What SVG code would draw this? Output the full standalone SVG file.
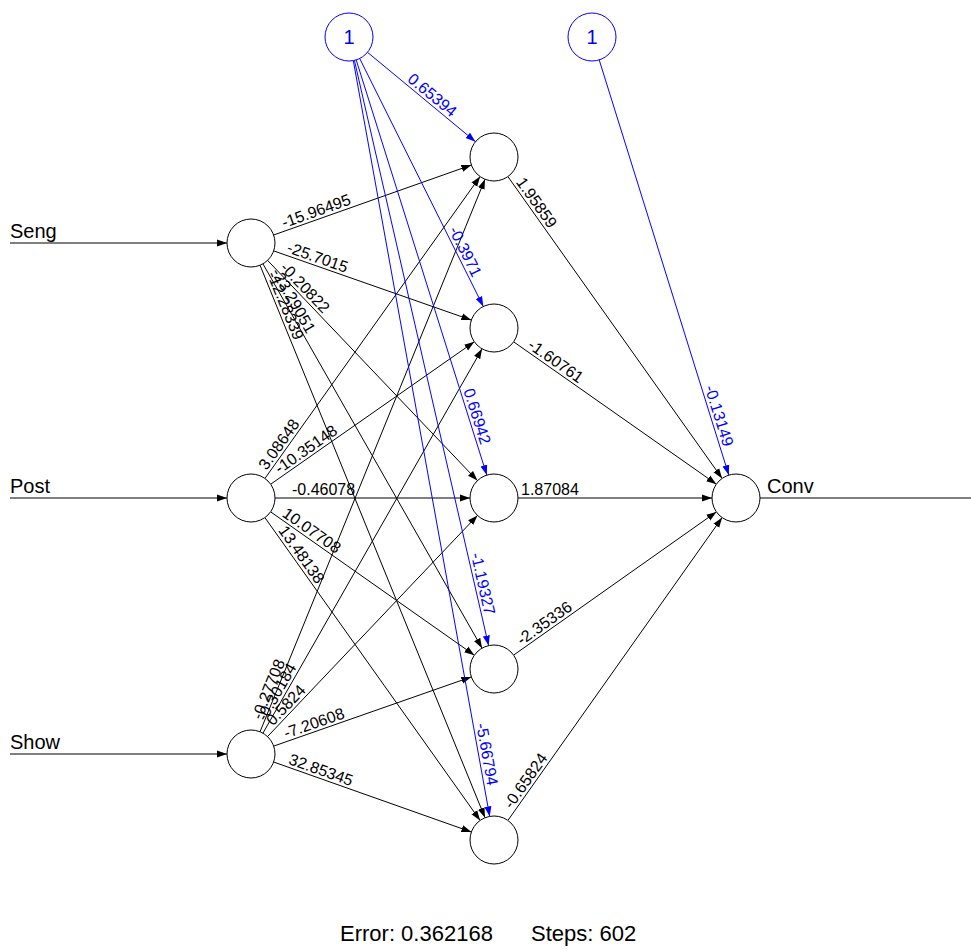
<svg xmlns="http://www.w3.org/2000/svg" width="971" height="952" viewBox="0 0 971 952">
<style>
.node{fill:#fff;stroke:#000;stroke-width:1}
.bias{fill:#fff;stroke:#0000ff;stroke-width:1}
.e{stroke:#000;stroke-width:1;fill:none;marker-end:url(#ab)}
.eb{stroke:#0000ff;stroke-width:1;fill:none;marker-end:url(#abl)}
.w{font-family:"Liberation Sans",Arial,sans-serif;font-size:16px;fill:#000}
.wb{font-family:"Liberation Sans",Arial,sans-serif;font-size:16px;fill:#0000ff;text-anchor:end}
.lbl{font-family:"Liberation Sans",Arial,sans-serif;font-size:20px;fill:#000}
.one{font-family:"Liberation Sans",Arial,sans-serif;font-size:20px;fill:#0000ff;text-anchor:middle}
.title{font-family:"Liberation Sans",Arial,sans-serif;font-size:22px;fill:#000}
</style>
<defs>
<marker id="ab" markerUnits="userSpaceOnUse" markerWidth="10" markerHeight="8" refX="10" refY="4" orient="auto"><path d="M0,0.5 L10,4 L0,7.5 z" fill="#000"/></marker>
<marker id="abl" markerUnits="userSpaceOnUse" markerWidth="10" markerHeight="8" refX="10" refY="4" orient="auto"><path d="M0,0.5 L10,4 L0,7.5 z" fill="#0000ff"/></marker>
</defs>
<rect width="971" height="952" fill="#fff"/>
<g id="connectors">
<line class="e" x1="10" y1="243" x2="227" y2="243"/>
<line class="e" x1="10" y1="498" x2="227" y2="498"/>
<line class="e" x1="10" y1="754" x2="227" y2="754"/>
<line x1="760" y1="498" x2="971" y2="498" stroke="#000" stroke-width="1"/>
<line class="e" x1="273.6" y1="235.0" x2="471.4" y2="165.0"/>
<line class="e" x1="273.7" y1="250.9" x2="471.3" y2="320.1"/>
<line class="e" x1="267.6" y1="260.4" x2="477.4" y2="480.6"/>
<line class="e" x1="262.9" y1="263.8" x2="482.1" y2="648.2"/>
<line class="e" x1="260.0" y1="265.2" x2="485.0" y2="817.8"/>
<line class="e" x1="264.9" y1="478.5" x2="480.1" y2="176.5"/>
<line class="e" x1="270.7" y1="484.2" x2="474.3" y2="341.8"/>
<line class="e" x1="275" y1="498" x2="470" y2="498"/>
<line class="e" x1="270.6" y1="511.8" x2="474.4" y2="655.2"/>
<line class="e" x1="264.9" y1="517.6" x2="480.1" y2="820.4"/>
<line class="e" x1="260.0" y1="731.8" x2="485.0" y2="179.2"/>
<line class="e" x1="262.9" y1="733.2" x2="482.1" y2="348.8"/>
<line class="e" x1="267.5" y1="736.6" x2="477.5" y2="515.4"/>
<line class="e" x1="273.7" y1="746.1" x2="471.3" y2="676.9"/>
<line class="e" x1="273.6" y1="762.0" x2="471.4" y2="832.0"/>
<line class="e" x1="507.9" y1="176.6" x2="722.1" y2="478.4"/>
<line class="e" x1="513.6" y1="341.8" x2="716.4" y2="484.2"/>
<line class="e" x1="518" y1="498" x2="712" y2="498"/>
<line class="e" x1="513.6" y1="655.1" x2="716.4" y2="511.9"/>
<line class="e" x1="507.9" y1="820.4" x2="722.1" y2="517.6"/>
<line class="eb" x1="367.5" y1="52.3" x2="475.5" y2="141.7"/>
<line class="eb" x1="359.7" y1="58.5" x2="483.3" y2="306.5"/>
<line class="eb" x1="356.2" y1="59.9" x2="486.8" y2="475.1"/>
<line class="eb" x1="354.4" y1="60.4" x2="488.6" y2="645.6"/>
<line class="eb" x1="353.3" y1="60.6" x2="489.7" y2="816.4"/>
<line class="eb" x1="599.2" y1="59.9" x2="728.8" y2="475.1"/>
</g>
<g id="weights">
<text class="w" transform="translate(284.9,231.0) rotate(-19.49)" y="-3">-15.96495</text>
<text class="w" transform="translate(285.0,254.9) rotate(19.28)" y="-3">-25.7015</text>
<text class="w" transform="translate(277.2,270.5) rotate(46.38)" y="-3">-0.20822</text>
<text class="w" transform="translate(268.3,273.4) rotate(60.30)" y="-3">-23.29051</text>
<text class="w" transform="translate(264.2,275.4) rotate(67.85)" y="-3">-12.28339</text>
<text class="w" transform="translate(269.0,472.8) rotate(-54.52)" y="-3">3.08648</text>
<text class="w" transform="translate(281.3,476.8) rotate(-34.98)" y="-3">-10.35148</text>
<text class="w" transform="translate(292,498)" y="-3">-0.46078</text>
<text class="w" transform="translate(279.6,518.1) rotate(35.13)" y="-3">10.07708</text>
<text class="w" transform="translate(275.3,532.2) rotate(54.60)" y="-3">13.48138</text>
<text class="w" transform="translate(264.2,721.6) rotate(-67.85)" y="-3">-0.27708</text>
<text class="w" transform="translate(268.3,723.6) rotate(-60.30)" y="-3">-0.30184</text>
<text class="w" transform="translate(275.1,728.6) rotate(-46.49)" y="-3">0.5824</text>
<text class="w" transform="translate(286.9,741.5) rotate(-19.28)" y="-3">-7.20608</text>
<text class="w" transform="translate(286.8,766.7) rotate(19.49)" y="-3">32.85345</text>
<text class="w" transform="translate(513.1,183.9) rotate(54.64)" y="-3">1.95859</text>
<text class="w" transform="translate(525.1,349.8) rotate(35.09)" y="-3">-1.60761</text>
<text class="w" transform="translate(521,498)" y="-3">1.87084</text>
<text class="w" transform="translate(523.4,648.2) rotate(-35.25)" y="-3">-2.35336</text>
<text class="w" transform="translate(514.2,811.4) rotate(-54.71)" y="-3">-0.65824</text>
<text class="wb" transform="translate(449.2,119.9) rotate(39.61)" y="-3">0.65394</text>
<text class="wb" transform="translate(469.9,279.6) rotate(63.52)" y="-3">-0.3971</text>
<text class="wb" transform="translate(477.8,446.5) rotate(72.54)" y="-3">0.66942</text>
<text class="wb" transform="translate(481.9,616.4) rotate(77.08)" y="-3">-1.19327</text>
<text class="wb" transform="translate(484.4,786.9) rotate(79.76)" y="-3">-5.66794</text>
<text class="wb" transform="translate(720.5,448.4) rotate(72.65)" y="-3">-0.13149</text>
</g>
<g id="input-seng"><circle class="node" cx="251" cy="243" r="24"/><text class="lbl" x="10" y="238">Seng</text></g>
<g id="input-post"><circle class="node" cx="251" cy="498" r="24"/><text class="lbl" x="10" y="493">Post</text></g>
<g id="input-show"><circle class="node" cx="251" cy="754" r="24"/><text class="lbl" x="10" y="749">Show</text></g>
<g id="hidden-1"><circle class="node" cx="494" cy="157" r="24"/></g>
<g id="hidden-2"><circle class="node" cx="494" cy="328" r="24"/></g>
<g id="hidden-3"><circle class="node" cx="494" cy="498" r="24"/></g>
<g id="hidden-4"><circle class="node" cx="494" cy="669" r="24"/></g>
<g id="hidden-5"><circle class="node" cx="494" cy="840" r="24"/></g>
<g id="output-conv"><circle class="node" cx="736" cy="498" r="24"/><text class="lbl" x="767" y="493">Conv</text></g>
<g id="bias-1"><circle class="bias" cx="349" cy="37" r="24"/><text class="one" x="349" y="44">1</text></g>
<g id="bias-2"><circle class="bias" cx="592" cy="37" r="24"/><text class="one" x="592" y="44">1</text></g>
<g id="info">
<text class="title" x="340" y="941">Error: 0.362168</text>
<text class="title" x="531" y="941">Steps: 602</text>
</g>
</svg>
